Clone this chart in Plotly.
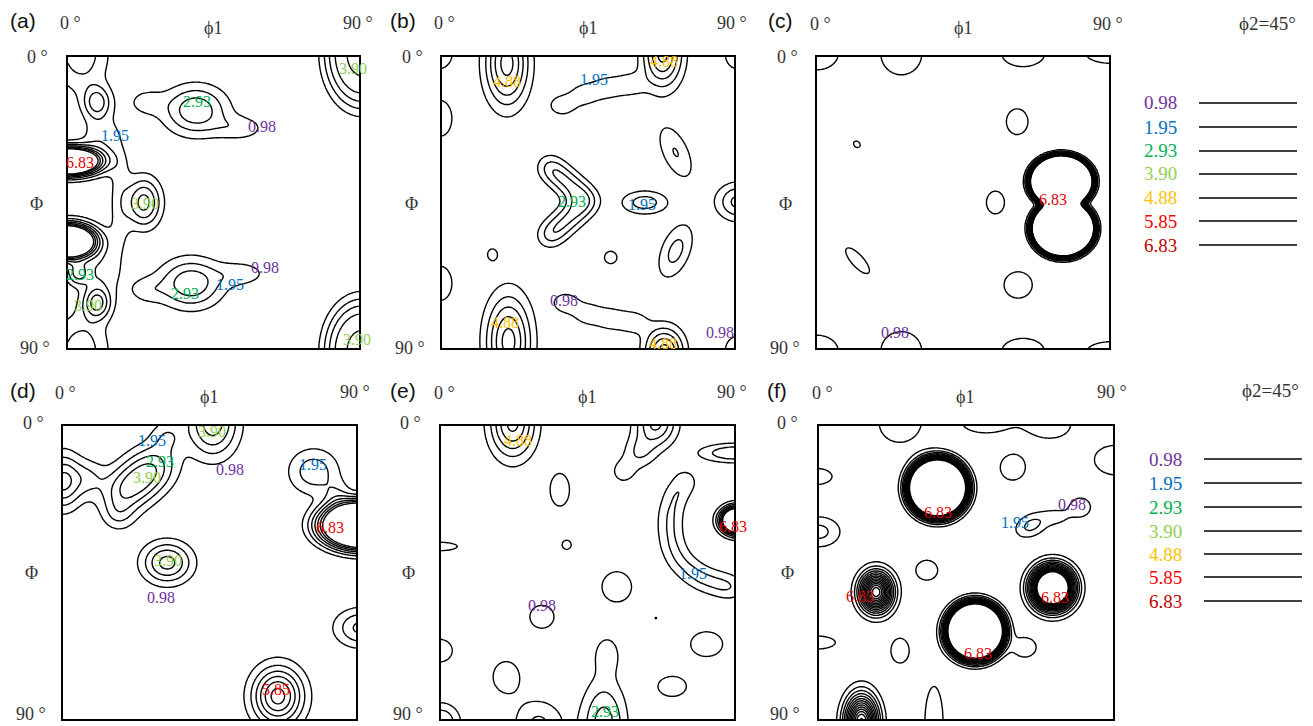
import numpy as np
import plotly.graph_objects as go

# ---------------- data ----------------
LEVEL_VALUES = [0.98, 1.95, 2.93, 3.90, 4.88, 5.85, 6.83]
LEVEL_TEXT = ["0.98", "1.95", "2.93", "3.90", "4.88", "5.85", "6.83"]
LEVEL_COLORS = ["#7030A0", "#0070C0", "#00B050", "#92D050", "#FFC000", "#FF0000", "#C00000"]
LEVEL_STEP = 0.975

PANEL_NAMES = ["(a)", "(b)", "(c)", "(d)", "(e)", "(f)"]
PANEL_TOP_LEVEL = [6.83, 6.83, 13.65, 6.83, 6.83, 13.65]

# ODF intensity components read from each section: (phi1, Phi, height, width_u, width_v[, shape, tilt])
peaks_a = [
    (0, 32.3, 20, 6.1, 2.65), (0, 57, 20, 5.3, 3.26),
    (9, 14, 3.3, 3, 3.5), (4, -1, 2.6, 6, 8), (10, 25, 1.6, 4, 5),
    (9, 76, 4.1, 3, 3.5), (4, 91, 2.6, 6, 8), (10, 66, 1.6, 4, 5), (3, 67, 3.0, 2.5, 2.5),
    (23.5, 45, 4.3, 3.7, 5.3), (16, 45, 1.3, 2.5, 14),
    (39.5, 16.5, 3.8, 6.8, 5.3), (53.5, 22, 1.5, 5.4, 2.7), (24, 14, 1.3, 4, 3),
    (38, 70, 3.8, 6.8, 5.3), (54, 67, 1.5, 5.4, 2.7), (24, 72, 1.3, 4, 3),
    (91, -1, 5, 10, 14.5, 4), (91, 91, 5, 10, 13.8, 4),
]
peaks_b = [
    (20, 2, 5.3, 4.6, 9), (20.5, 88, 5.3, 4.8, 9.8),
    (68, -1, 5.2, 4.2, 7.2), (68.5, 91, 5.3, 4.1, 5),
    (37, 15, 1.5, 3.5, 2.7), (44, 11.5, 1.5, 3.5, 2.7), (51, 9.5, 1.5, 3.5, 2.7), (58, 8.5, 1.5, 3.5, 2.7),
    (38, 76, 1.5, 3.5, 2.7), (45, 79.5, 1.5, 3.5, 2.7), (52, 81, 1.5, 3.5, 2.7), (59, 82, 1.5, 3.5, 2.7),
    (33, 34, 1.7, 3, 3), (36, 36.6, 1.7, 3, 3), (39, 39.2, 1.7, 3, 3), (42, 41.8, 1.7, 3, 3),
    (45, 44.5, 1.7, 3, 3), (42, 47.2, 1.7, 3, 3), (39, 49.9, 1.7, 3, 3), (36, 52.6, 1.7, 3, 3),
    (33, 55.3, 1.7, 3, 3),
    (62.5, 45, 2.5, 5.1, 2.6),
    (72, 29.5, 2.0, 6.7, 3.1, 2, 65), (72, 60, 2.3, 6.5, 3.3, 2, 112),
    (91.5, 44.8, 3.3, 4.8, 4.0),
    (-0.5, 19, 1.3, 4.7, 7.3), (-0.5, 70, 1.3, 4.7, 7),
    (-1, -1, 1.5, 4.3, 4.3), (91, -1, 1.5, 4, 5), (91, 91, 1.5, 4, 5),
    (15.5, 61, 1.15, 2.2, 2.6), (52, 62, 1.2, 3, 3),
]
peaks_c = [
    (75.3, 38.5, 100, 6.7, 5.6, 4), (75.8, 53, 100, 6.7, 6.0, 4),
    (61.7, 20, 1.5, 3.6, 4.3), (55, 45, 1.5, 3.0, 3.8), (62, 70.5, 1.5, 4.7, 4.4),
    (12.3, 27, 1.3, 1.5, 1.2, 2, 40), (12.5, 63, 1.5, 5.5, 2.0, 2, 48),
    (26, -1, 1.8, 5.7, 5.9), (63.5, -1, 1.8, 5.9, 3.6), (0, -1, 1.8, 5.9, 4.5), (91, -1, 1.8, 7.3, 2.7),
    (26, 91, 1.8, 5.7, 5.5), (63.5, 91, 1.8, 5.9, 3.6), (0, 91, 1.8, 5.9, 4.5), (91, 91, 1.8, 7, 2.7),
]
peaks_d = [
    (0, 17, 4.2, 4, 5.9), (8, 16, 1.6, 3.5, 4),
    (17.5, 21.2, 2.0, 5, 5), (21.3, 18.1, 2.0, 5, 5), (25.2, 14.9, 2.0, 5, 5), (29, 11.8, 2.0, 5, 5),
    (17, 27.5, 1.4, 3.5, 3.5),
    (46, -1, 4.5, 5.4, 7.3), (32, 3, 1.6, 3.5, 3.5),
    (92, 30.5, 15, 10.5, 5.9, 3), (77, 14, 2.6, 5.5, 5), (84, 21, 1.3, 3, 3),
    (32, 42, 4.3, 5.3, 4.4), (91.5, 62, 3.2, 5.6, 4.1), (66, 83, 6.3, 5.4, 6.2),
]
peaks_e = [
    (22, -1, 5.2, 4.8, 7.4), (66, -1, 4.2, 4.4, 5), (61, 8, 1.8, 3.5, 3.5), (56, 14, 1.4, 3, 3),
    (90.5, 8.3, 2.2, 10.2, 2.7, 4),
    (75, 17, 1.4, 3, 3), (72, 21.5, 1.4, 3, 3), (70.5, 26.5, 1.4, 3, 3), (70.3, 31.5, 1.4, 3, 3),
    (71, 36.5, 1.4, 3, 3), (73, 41, 1.4, 3, 3), (76.5, 44.5, 1.4, 3, 3), (80.5, 47, 1.4, 3, 3),
    (85, 48.5, 1.4, 3, 3), (89.5, 49.5, 1.4, 3, 3),
    (91, 29, 20, 3.05, 2.52),
    (36.5, 19.6, 1.5, 3.2, 5.4), (38.6, 36.5, 1.5, 1.5, 1.5), (-0.5, 37, 1.5, 6, 1.4),
    (54, 49.4, 1.5, 4.9, 5), (31, 58.6, 1.5, 4, 3.8), (66, 59, 1.05, 0.8, 0.8),
    (81.6, 67, 1.5, 5.3, 4.1), (51, 70, 1.5, 3, 4.3), (20, 77, 1.5, 4.3, 5), (71, 80, 1.5, 4.7, 3.3),
    (-0.5, 69, 1.5, 4.3, 3.8),
    (50, 92, 3.5, 4.7, 9.4), (0, 91, 3.0, 4, 4), (30, 92, 2.2, 5.5, 5.7),
]
peaks_f = [
    (36.3, 19, 100, 4.93, 4.93, 2.5), (47.8, 63, 100, 4.8, 4.8, 2.5), (63, 68, 1.6, 3.5, 3),
    (71.5, 49.7, 30, 3.8, 3.92), (17.5, 51, 14.5, 3.3, 4), (13, 91, 14, 3.3, 5.5),
    (65, 30.5, 2.3, 3.8, 2.5, 2, -25), (72.5, 28, 1.2, 3, 2), (80, 25, 1.5, 3.3, 3),
    (59.3, 12.8, 1.5, 4.1, 4.1), (33, 44.3, 1.5, 3.6, 3.3), (24.8, 69, 1.5, 3, 4.1),
    (24.7, -1, 1.5, 6.8, 6.5), (50.5, -1.5, 1.5, 7.2, 3.8), (70.7, -1, 1.5, 6.8, 5),
    (91, 10.5, 1.5, 7.1, 4.9), (-1, 15.5, 1.5, 5.4, 2.7), (0, 32.5, 2.3, 4.9, 3.5),
    (-1, 66.5, 1.5, 6.5, 2.2), (35.2, 91, 1.5, 3, 11.9),
]
PANEL_PEAKS = [peaks_a, peaks_b, peaks_c, peaks_d, peaks_e, peaks_f]

# contour value labels: (text, phi1, Phi)
labels_a = [("3.90", 88, 3.7), ("2.93", 39.8, 13.9), ("0.98", 60, 21.6), ("1.95", 14.5, 24.4),
            ("6.83", 3.7, 32.5), ("3.90", 23.8, 45.2), ("0.98", 61, 65), ("2.93", 3.7, 67.4),
            ("1.95", 50, 70.5), ("2.93", 36.2, 73), ("3.90", 6.2, 77), ("3.90", 89.5, 87.3)]
labels_b = [("4.88", 20, 7.6), ("4.88", 68.3, 1.5), ("1.95", 46.7, 7.1), ("2.93", 40, 44.8),
            ("1.95", 61.7, 45.5), ("0.98", 37.5, 75.2), ("4.88", 19.5, 82.2), ("0.98", 85.8, 85.3),
            ("4.88", 68, 88.5)]
labels_c = [("6.83", 72.8, 44.2), ("0.98", 24, 85.3)]
labels_d = [("1.95", 27.3, 4.3), ("3.90", 45.7, 1.8), ("2.93", 29.8, 11), ("3.90", 25.8, 15.7),
            ("0.98", 51.3, 13.5), ("1.95", 76.8, 11.7), ("6.83", 82, 31.3), ("3.90", 32.3, 41.2),
            ("0.98", 30.1, 52.8), ("2.93", 91.2, 62.3), ("5.85", 65.4, 80.8)]
labels_e = [("4.88", 23.6, 4.3), ("6.83", 89.7, 31), ("1.95", 77.4, 45.2), ("0.98", 31, 55),
            ("2.93", 50.3, 87.8)]
labels_f = [("6.83", 36.4, 26.6), ("0.98", 77.4, 24.2), ("1.95", 60, 29.7), ("6.83", 12.5, 52.3),
            ("6.83", 72.2, 52.6), ("6.83", 48.6, 70)]
PANEL_LABELS = [labels_a, labels_b, labels_c, labels_d, labels_e, labels_f]

AXIS_MIN_TEXT = "0 °"
AXIS_MAX_TEXT = "90 °"
PHI1_TEXT = "ϕ1"
PHI_TEXT = "Φ"
SECTION_TEXT = "ϕ2=45°"

# ---------------- layout (pixels) ----------------
W, H = 1313, 726
BOXES = [(68, 57, 359, 348), (442, 57, 734, 348), (817, 57, 1109, 348),
         (63, 426, 356, 719), (441, 426, 734, 719), (819, 426, 1113, 719)]
TEXT_POS = [
    [(23, 20), (70, 23), (213, 28), (358, 23), (37, 57), (36, 204), (35, 348)],
    [(403, 20), (445, 23), (588, 28), (732, 23), (412, 57), (411, 204), (410, 348)],
    [(780, 20), (820, 24), (963, 28), (1108, 24), (787, 57), (785, 204), (785, 348)],
    [(23, 390), (65, 393), (209, 397), (355, 392), (33, 423), (31, 573), (31, 714)],
    [(403, 390), (445, 393), (587, 397), (732, 392), (410, 423), (408, 573), (408, 714)],
    [(777, 390), (822, 393), (965, 397), (1112, 392), (787, 423), (787, 573), (785, 714)],
]
LEGENDS = [dict(title=(1267, 23), num_x=1160, ys=[103, 127, 151, 174, 198, 221, 245], line=(1199, 1297)),
           dict(title=(1270, 390), num_x=1165, ys=[459, 483, 507, 531, 554, 577, 601], line=(1204, 1302))]

SERIF = "Liberation Serif, Times New Roman, serif"
SANS = "Liberation Sans, Arial, sans-serif"
AX_COLOR = "#333333"


def px(x):
    return x / W


def py(y):
    return 1 - y / H


grid = np.arange(0, 90.25, 0.5)
GX, GY = np.meshgrid(grid, grid)


def section_field(peaks):
    z = np.zeros_like(GX)
    for pk in peaks:
        cx, cy, amp, su, sv = pk[:5]
        shape = pk[5] if len(pk) > 5 else 2
        tilt = np.radians(pk[6]) if len(pk) > 6 else 0.0
        dx, dy = GX - cx, GY - cy
        u = dx * np.cos(tilt) + dy * np.sin(tilt)
        v = -dx * np.sin(tilt) + dy * np.cos(tilt)
        q = (u / su) ** 2 + (v / sv) ** 2
        z += amp * np.exp(-0.5 * q ** (shape / 2.0))
    return z


def note(x, y, text, font, xref="paper", yref="paper"):
    return dict(x=x, y=y, xref=xref, yref=yref, text=text, showarrow=False,
                xanchor="center", yanchor="middle", font=font)


fig = go.Figure()
annotations = []
shapes = []
label_color = dict(zip(LEVEL_TEXT, LEVEL_COLORS))
label_color_in = dict(label_color)
label_color_in["6.83"] = "#E00000"

for i in range(6):
    n = i + 1
    xa = "x" if n == 1 else f"x{n}"
    ya = "y" if n == 1 else f"y{n}"
    L, T, R, B = BOXES[i]
    z = section_field(PANEL_PEAKS[i])
    fig.add_trace(go.Contour(
        x=grid, y=grid, z=z, xaxis=xa, yaxis=ya,
        autocontour=False,
        contours=dict(start=LEVEL_VALUES[0], end=PANEL_TOP_LEVEL[i] + 0.01, size=LEVEL_STEP,
                      coloring="none", showlabels=False),
        line=dict(color="black", width=1.4, smoothing=0.6),
        showscale=False, hoverinfo="skip",
    ))
    axis_common = dict(range=[0, 90], showgrid=False, zeroline=False, showticklabels=False,
                       ticks="", showline=True, mirror=True, linecolor="black", linewidth=2)
    fig.layout["xaxis" if n == 1 else f"xaxis{n}"] = dict(
        domain=[px(L), px(R)], anchor=ya, **axis_common)
    yax = dict(axis_common)
    yax["range"] = [90, 0]
    fig.layout["yaxis" if n == 1 else f"yaxis{n}"] = dict(
        domain=[py(B), py(T)], anchor=xa, **yax)

    for text, p1, ph in PANEL_LABELS[i]:
        annotations.append(note(p1, ph, text, dict(family=SERIF, size=16, color=label_color_in[text]),
                                xref=xa, yref=ya))

    pos = TEXT_POS[i]
    annotations.append(note(px(pos[0][0]), py(pos[0][1]), PANEL_NAMES[i],
                            dict(family=SANS, size=21, color="#111111")))
    for (tx, (xx, yy)) in zip([AXIS_MIN_TEXT, PHI1_TEXT, AXIS_MAX_TEXT, AXIS_MIN_TEXT, PHI_TEXT, AXIS_MAX_TEXT],
                              pos[1:]):
        annotations.append(note(px(xx), py(yy), tx, dict(family=SERIF, size=18, color=AX_COLOR)))

for lg in LEGENDS:
    annotations.append(note(px(lg["title"][0]), py(lg["title"][1]), SECTION_TEXT,
                            dict(family=SERIF, size=19, color=AX_COLOR)))
    for text, col, yy in zip(LEVEL_TEXT, LEVEL_COLORS, lg["ys"]):
        annotations.append(note(px(lg["num_x"]), py(yy), text, dict(family=SERIF, size=19, color=col)))
        shapes.append(dict(type="line", xref="paper", yref="paper",
                           x0=px(lg["line"][0]), x1=px(lg["line"][1]), y0=py(yy), y1=py(yy),
                           line=dict(color="black", width=1.5)))

fig.update_layout(width=W, height=H, margin=dict(l=0, r=0, t=0, b=0),
                  paper_bgcolor="white", plot_bgcolor="white", showlegend=False,
                  annotations=annotations, shapes=shapes)
fig.write_html("out.html")
